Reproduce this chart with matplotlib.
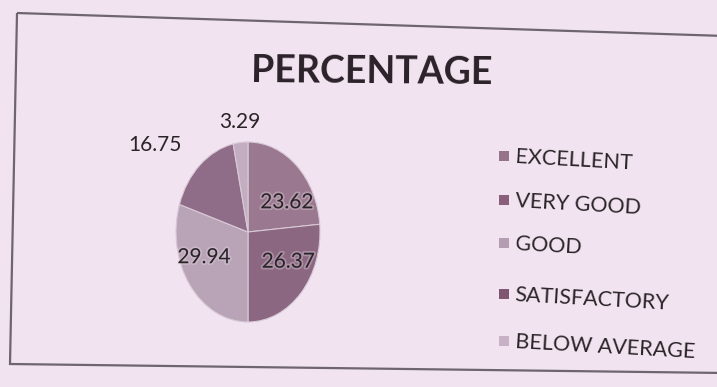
import matplotlib
matplotlib.use("Agg")
import matplotlib.pyplot as plt
import matplotlib.patheffects as pe
from matplotlib.patches import Polygon, Rectangle

plt.rcParams['font.family'] = ['Lato', 'DejaVu Sans']

# survey results
categories = ['EXCELLENT', 'VERY GOOD', 'GOOD', 'SATISFACTORY', 'BELOW AVERAGE']
percentages = [23.62, 26.37, 29.94, 16.75, 3.29]
colors = ['#9a7890', '#8c6782', '#b9a3b7', '#8f6d88', '#c3aec1']
legend_colors = ['#977389', '#8a5e7b', '#b59db1', '#7e5672', '#c6b2c4']

W, H = 717, 387
fig = plt.figure(figsize=(W / 100, H / 100), dpi=100)
fig.patch.set_facecolor('#f1e4f0')

# full-figure layer in pixel units for frame, title and legend
bg = fig.add_axes([0, 0, 1, 1])
bg.set_xlim(0, W)
bg.set_ylim(H, 0)
bg.axis('off')
bg.add_patch(Polygon([(17, 13), (725, 36), (725, 373), (10, 364)], closed=True,
                     fill=False, edgecolor='#6e6570', linewidth=1.6))
bg.text(372, 72, 'PERCENTAGE', ha='center', va='center', fontsize=27,
        fontweight='bold', color='#2a2228', rotation=-0.5)

# legend drawn by hand so it can follow the slight tilt of the page
legend_y = [156, 200, 243, 294, 341]
for name, col, y in zip(categories, legend_colors, legend_y):
    bg.add_patch(Rectangle((499, y - 5), 10, 10, facecolor=col, edgecolor='none'))
    bg.text(515, y + 1, name, ha='left', va='center', fontsize=15.5,
            color='#2a2428', rotation=-3.2, rotation_mode='anchor')

# pie, stretched vertically like the photographed print
cx, cy, rx, ry = 248, 232, 72, 90
ax = fig.add_axes([(cx - rx) / W, 1 - (cy + ry) / H, 2 * rx / W, 2 * ry / H])
wedges, _ = ax.pie(percentages, colors=colors, startangle=90, counterclock=False,
                   wedgeprops=dict(edgecolor='#d9c9d6', linewidth=0.8))
ax.set_aspect('auto')
ax.set_xlim(-1, 1)
ax.set_ylim(-1, 1)

label_pos = [(0.54, 0.33), (0.56, -0.33), (-0.61, -0.28), (-1.29, 0.97), (-0.11, 1.22)]
for val, (lx, ly), inside in zip(percentages, label_pos, [True, True, True, False, False]):
    t = ax.text(lx, ly, f'{val:.2f}', ha='center', va='center', fontsize=15,
                color='#2a2428', clip_on=False)
    if inside:
        t.set_path_effects([pe.withStroke(linewidth=2.5, foreground='#e6dbe4', alpha=0.35)])

fig.savefig('out.png', dpi=100, facecolor=fig.get_facecolor())
